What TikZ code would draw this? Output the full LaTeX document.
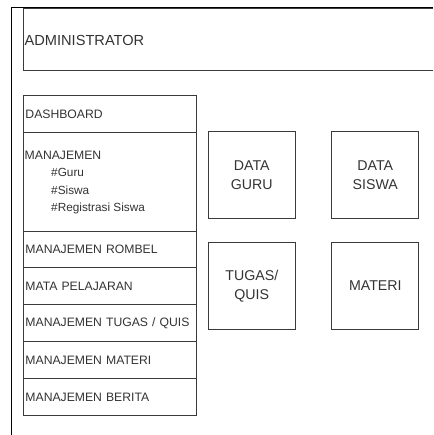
\documentclass[tikz,border=0pt]{standalone}
\usepackage{fontspec}
\setmainfont{Liberation Sans}
\definecolor{ink}{HTML}{333333}
\definecolor{edge}{HTML}{3A3A3A}
\newcommand{\menufont}{\fontsize{12.2pt}{14pt}\selectfont}
\newcommand{\subfont}{\fontsize{11.8pt}{14pt}\selectfont}
\newcommand{\tilefont}{\fontsize{14.2pt}{18.4pt}\selectfont}
\newcommand{\titlefont}{\fontsize{14.6pt}{16pt}\selectfont}
\begin{document}
\begin{tikzpicture}[x=1pt,y=-1pt,
  frame/.style={draw=black, line width=1pt},
  panel/.style={draw=edge, line width=0.9pt},
  menurow/.style={draw=edge, line width=0.9pt, anchor=north west,
    minimum width=173pt, text width=169pt, inner xsep=2pt, inner ysep=0pt,
    align=left, text=ink, font=\menufont},
  menutext/.style={text=ink, inner sep=0pt, anchor=base west, font=\menufont},
  subtext/.style={text=ink, inner sep=0pt, anchor=base west, font=\subfont},
  tile/.style={draw=edge, line width=0.9pt, minimum width=87pt,
    minimum height=87pt, align=center, text=ink, font=\tilefont},
  title/.style={text=ink, inner sep=0pt, anchor=base west, font=\titlefont}]
\useasboundingbox (0,0) rectangle (433,435);

% page frame and header bar
\draw[frame] (433,8) -- (11,8) -- (11,435);
\draw[panel] (433,8) -- (23,8) -- (23,70) -- (433,70);
\node[title] (admin) at (24.5,45.2) {ADMINISTRATOR};

% side menu
\node[menurow, minimum height=37pt] (dash) at (23,95) {DASHBOARD};
\node[menurow, minimum height=99pt] (mgmt) at (23,132) {};
\node[menutext] (mgmtlabel) at (24.5,159.3) {MANAJEMEN};
\node[subtext] (subguru) at (51,176.8) {\#Guru};
\node[subtext] (subsiswa) at (51,194.3) {\#Siswa};
\node[subtext] (subreg) at (51,211.8) {\#Registrasi Siswa};
\node[menurow, minimum height=36pt] (rombel) at (23,231) {MANAJEMEN ROMBEL};
\node[menurow, minimum height=37pt] (mapel) at (23,267) {MATA PELAJARAN};
\node[menurow, minimum height=37pt] (tugasmenu) at (23,304) {MANAJEMEN TUGAS / QUIS};
\node[menurow, minimum height=37pt] (materimenu) at (23,341) {MANAJEMEN MATERI};
\node[menurow, minimum height=37pt] (berita) at (23,378) {MANAJEMEN BERITA};

% content tiles
\node[tile] (dataguru) at (251.8,175) {DATA\\GURU};
\node[tile] (datasiswa) at (375.3,175) {DATA\\SISWA};
\node[tile] (tugas) at (251.8,286) {TUGAS/\\QUIS};
\node[tile] (materi) at (375.3,286) {MATERI};
\end{tikzpicture}
\end{document}
